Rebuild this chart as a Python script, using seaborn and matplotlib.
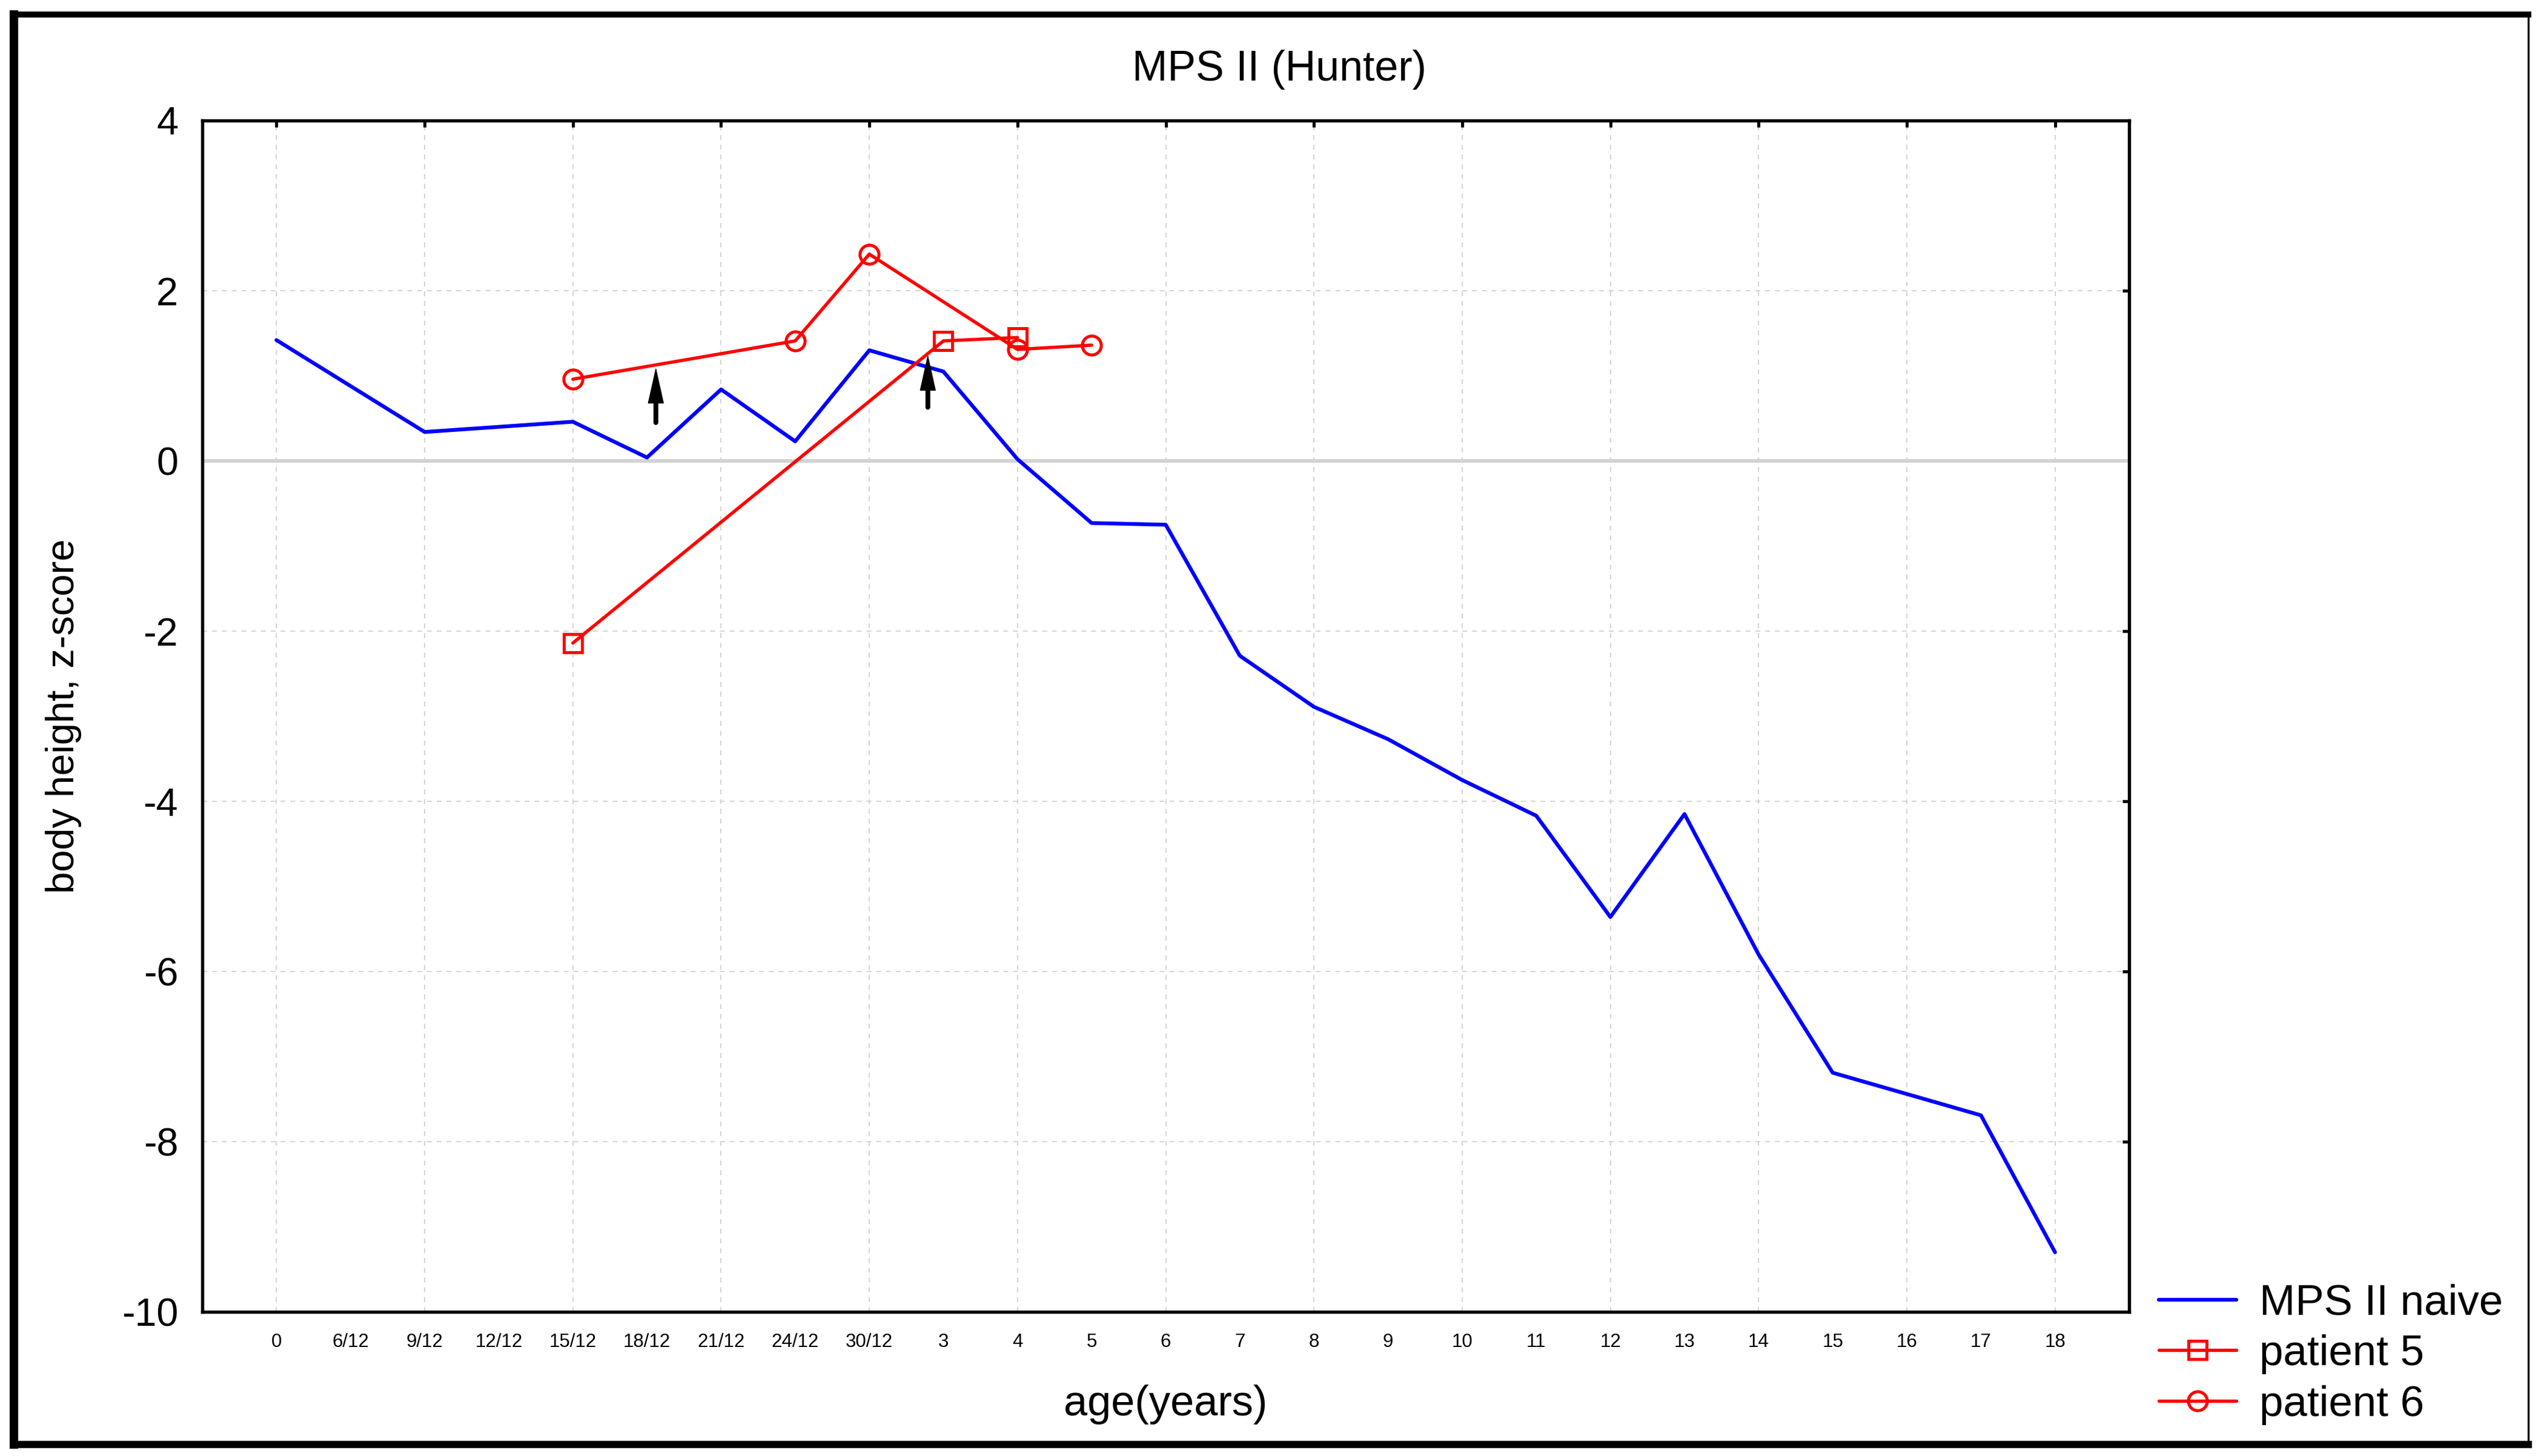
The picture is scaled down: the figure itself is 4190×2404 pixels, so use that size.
import pandas as pd
import matplotlib
matplotlib.use('Agg')
import matplotlib.pyplot as plt
from matplotlib.lines import Line2D
import seaborn as sns

# age axis (categorical, equally spaced)
age_labels = ['0', '6/12', '9/12', '12/12', '15/12', '18/12', '21/12', '24/12', '30/12',
              '3', '4', '5', '6', '7', '8', '9', '10', '11', '12', '13', '14', '15', '16', '17', '18']

naive_ages = ['0', '9/12', '15/12', '18/12', '21/12', '24/12', '30/12', '3', '4', '5', '6',
              '7', '8', '9', '10', '11', '12', '13', '14', '15', '16', '17', '18']
naive_z = [1.42, 0.34, 0.46, 0.04, 0.84, 0.23, 1.30, 1.05, 0.02, -0.73, -0.75,
           -2.29, -2.89, -3.27, -3.75, -4.17, -5.36, -4.15, -5.80, -7.19, -7.44, -7.69, -9.30]

p5_ages = ['15/12', '3', '4']
p5_z = [-2.14, 1.41, 1.45]

p6_ages = ['15/12', '24/12', '30/12', '4', '5']
p6_z = [0.96, 1.41, 2.43, 1.31, 1.36]

# arrows marking start of therapy (position on age axis, tail z, tip z)
arrow_pos = [5.12, 8.79]
arrow_tail = [0.45, 0.63]
arrow_tip = [1.10, 1.25]

y_ticks = [4, 2, 0, -2, -4, -6, -8, -10]

pos = {lab: i for i, lab in enumerate(age_labels)}


def armar_df(edades, valores):
    return pd.DataFrame({'x': [pos[e] for e in edades], 'z': valores})


sns.set_style('white')
plt.rcParams['font.family'] = ['Liberation Sans', 'DejaVu Sans']
for k in ['text.color', 'axes.labelcolor', 'xtick.color', 'ytick.color']:
    plt.rcParams[k] = 'black'

fig = plt.figure(figsize=(4190 / 300, 2404 / 300), dpi=300)
ax = fig.add_axes([334 / 4190, 1 - 2166 / 2404, (3515 - 334) / 4190, (2166 - 199) / 2404])

ax.axhline(0, color='#d3d3d3', lw=1.45, zorder=1)

sns.lineplot(data=armar_df(naive_ages, naive_z), x='x', y='z', ax=ax, sort=False,
             estimator=None, color='#0000ff', lw=1.5, label='MPS II naive', zorder=3)
sns.lineplot(data=armar_df(p5_ages, p5_z), x='x', y='z', ax=ax, sort=False,
             estimator=None, color='#ff0000', lw=1.3, marker='s', markersize=7.2,
             markerfacecolor='none', markeredgecolor='#ff0000', markeredgewidth=1.2,
             label='patient 5', zorder=4)
sns.lineplot(data=armar_df(p6_ages, p6_z), x='x', y='z', ax=ax, sort=False,
             estimator=None, color='#ff0000', lw=1.3, marker='o', markersize=7.5,
             markerfacecolor='none', markeredgecolor='#ff0000', markeredgewidth=1.2,
             label='patient 6', zorder=4)

# flechas: punta fina + cuerpo grueso por separado
for xa, y0, y1 in zip(arrow_pos, arrow_tail, arrow_tip):
    ax.annotate('', xy=(xa, y1), xytext=(xa, y0),
                arrowprops=dict(arrowstyle='-|>,head_length=1.35,head_width=0.3',
                                color='black', lw=0.3, shrinkA=0, shrinkB=0),
                zorder=5)
    ax.annotate('', xy=(xa, y1 - 0.25), xytext=(xa, y0),
                arrowprops=dict(arrowstyle='-', color='black', lw=1.9,
                                shrinkA=0, shrinkB=0),
                zorder=5)

ax.set_xlim(-1, 25)
ax.set_ylim(-10, 4)

major = list(range(0, len(age_labels), 2))
minor = list(range(1, len(age_labels), 2))
ax.set_xticks(major, labels=[age_labels[i] for i in major])
ax.set_xticks(minor, labels=[age_labels[i] for i in minor], minor=True)
ax.set_yticks(y_ticks, labels=[str(t) for t in y_ticks])

ax.tick_params(axis='both', which='major', direction='in', length=2.6, width=1.2,
               top=True, right=True, color='black')
ax.tick_params(axis='x', which='both', labelsize=7.5, pad=8.5)
ax.tick_params(axis='x', which='minor', length=0, top=True)
ax.tick_params(axis='y', labelsize=15.5, pad=9.6)

ax.grid(True, which='major', color='#d3d3d3', lw=0.45, linestyle=(0, (4.3, 4.3)))
ax.set_axisbelow(True)

for sp in ax.spines.values():
    sp.set_visible(True)
    sp.set_color('black')
    sp.set_linewidth(1.3)

ax.set_xlabel('age(years)', fontsize=16.9)
ax.xaxis.set_label_coords(0.5, -0.061)
ax.set_ylabel('body height, z-score', fontsize=15.6)
ax.yaxis.set_label_coords(-0.0626, 0.5)

fig.text(0.504, 1 - 115 / 2404, 'MPS II (Hunter)', ha='center', va='center', fontsize=16.8)

ax.legend(loc='center left', bbox_to_anchor=(3564 / 4190, 1 - 2236 / 2404),
          bbox_transform=fig.transFigure, frameon=False, fontsize=17,
          handlelength=1.8, handletextpad=0.55, labelspacing=0.25,
          borderpad=0, borderaxespad=0)

# marco de la figura
xl, xr = 23 / 4190, 4173.5 / 4190
yt, yb = 1 - 24 / 2404, 1 - 2385 / 2404
for xs, ys, w in [([xl, xl], [yb, yt], 3.4), ([xl, xr], [yt, yt], 2.4),
                  ([xl, xr], [yb, yb], 2.9), ([xr, xr], [yb, yt], 0.8)]:
    fig.add_artist(Line2D(xs, ys, transform=fig.transFigure, color='black', lw=w,
                          solid_capstyle='projecting'))

fig.savefig('out.png', dpi=300)
